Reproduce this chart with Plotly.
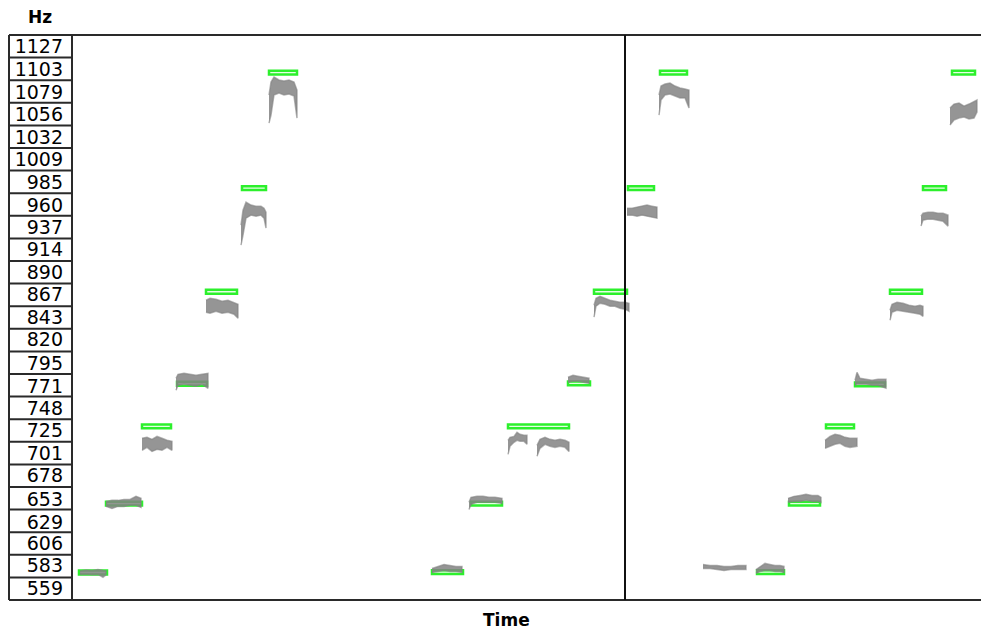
import plotly.graph_objects as go

# ---------------- data ----------------
hz_labels = [1127, 1103, 1079, 1056, 1032, 1009, 985, 960, 937, 914, 890, 867, 843,
             820, 795, 771, 748, 725, 701, 678, 653, 629, 606, 583, 559]

# target notes (green): start time (s), end time (s), pitch (Hz)
note_start = [0.07, 0.34, 0.70, 1.05, 1.34, 1.70, 1.97,
              3.60, 3.99, 4.36, 4.96, 5.22, 5.56, 5.88,
              6.85, 7.17, 7.54, 7.83, 8.18, 8.51, 8.80]
note_end = [0.35, 0.70, 0.99, 1.35, 1.65, 1.94, 2.25,
            3.91, 4.30, 4.97, 5.18, 5.55, 5.82, 6.15,
            7.12, 7.48, 7.82, 8.13, 8.50, 8.74, 9.03]
note_hz = [576.0, 648.0, 729.0, 773.6, 870.0, 978.5, 1099.5,
           576.3, 648.0, 729.0, 774.0, 870.0, 978.5, 1099.5,
           576.3, 648.0, 729.0, 773.0, 870.0, 978.5, 1099.5]

loop_time = 5.53  # vertical marker

# sung pitch traces (gray): time, upper envelope (Hz), lower envelope (Hz)
seg_t = [
    [0.08, 0.14, 0.20, 0.26, 0.31, 0.34],
    [0.34, 0.40, 0.46, 0.52, 0.58, 0.64, 0.69],
    [0.70, 0.75, 0.80, 0.85, 0.90, 0.95, 1.00],
    [1.04, 1.06, 1.12, 1.18, 1.24, 1.30, 1.36],
    [1.34, 1.38, 1.44, 1.50, 1.56, 1.62, 1.66],
    [1.69, 1.71, 1.74, 1.79, 1.84, 1.89, 1.92, 1.94],
    [1.97, 1.99, 2.02, 2.07, 2.12, 2.17, 2.22, 2.25],
    [3.60, 3.66, 3.72, 3.78, 3.84, 3.90],
    [3.97, 3.99, 4.05, 4.11, 4.17, 4.23, 4.30],
    [4.36, 4.38, 4.42, 4.45, 4.48, 4.52, 4.55],
    [4.65, 4.68, 4.73, 4.78, 4.83, 4.88, 4.93, 4.97],
    [4.96, 5.01, 5.06, 5.11, 5.17],
    [5.22, 5.24, 5.28, 5.33, 5.38, 5.43, 5.48, 5.53, 5.57],
    [5.55, 5.60, 5.65, 5.70, 5.75, 5.80, 5.85],
    [5.87, 5.89, 5.93, 5.98, 6.03, 6.08, 6.13, 6.17],
    [6.31, 6.38, 6.45, 6.52, 6.59, 6.66, 6.74],
    [6.84, 6.88, 6.93, 6.98, 7.03, 7.08, 7.12],
    [7.16, 7.22, 7.28, 7.34, 7.40, 7.46, 7.49],
    [7.53, 7.58, 7.63, 7.68, 7.73, 7.78, 7.85],
    [7.83, 7.85, 7.88, 7.94, 8.00, 8.06, 8.14],
    [8.18, 8.20, 8.25, 8.31, 8.37, 8.43, 8.48, 8.51],
    [8.49, 8.51, 8.56, 8.61, 8.66, 8.71, 8.76],
    [8.78, 8.82, 8.87, 8.92, 8.97, 9.02, 9.05],
]
seg_hi = [
    [577.5, 578.5, 578.0, 579.0, 578.2, 577.8],
    [650.4, 651.5, 651.5, 652.5, 652.5, 655.7, 653.6],
    [716.5, 717.5, 715.4, 718.5, 716.5, 714.4, 713.3],
    [779.4, 783.5, 784.6, 783.5, 782.5, 783.5, 784.6],
    [861.1, 863.2, 862.1, 860.0, 861.1, 859.0, 856.9],
    [939.7, 955.4, 963.8, 960.7, 959.6, 959.6, 957.5, 953.3],
    [1076.0, 1089.6, 1094.8, 1091.7, 1090.6, 1091.7, 1089.6, 1081.2],
    [580.2, 582.3, 584.4, 583.4, 582.3, 582.3],
    [649.4, 654.7, 655.7, 655.7, 654.7, 654.7, 653.6],
    [714.4, 717.5, 718.5, 722.8, 720.7, 719.6, 719.6],
    [709.1, 715.4, 717.5, 715.4, 714.4, 715.4, 714.4, 712.3],
    [780.4, 782.5, 781.5, 780.4, 779.4],
    [855.9, 863.2, 865.3, 863.2, 861.1, 860.0, 859.0, 859.0, 857.9],
    [957.5, 957.5, 958.6, 959.6, 960.7, 959.6, 958.6],
    [1076.0, 1085.4, 1087.5, 1088.5, 1085.4, 1083.3, 1082.3, 1081.2],
    [584.4, 583.4, 583.4, 582.3, 582.3, 583.4, 583.4],
    [579.1, 582.3, 585.5, 584.4, 583.4, 583.4, 582.3],
    [653.6, 655.7, 656.7, 657.8, 656.7, 656.7, 654.7],
    [714.4, 718.5, 720.7, 719.6, 717.5, 716.5, 716.5],
    [777.3, 785.6, 779.4, 778.3, 777.3, 778.3, 778.3],
    [850.6, 856.9, 859.0, 857.9, 855.9, 854.8, 855.9, 854.8],
    [949.1, 952.3, 953.3, 953.3, 952.3, 952.3, 950.2],
    [1062.3, 1066.5, 1067.6, 1064.4, 1066.5, 1069.7, 1070.7],
]
seg_lo = [
    [573.8, 574.2, 573.5, 574.0, 571.0, 573.5],
    [645.2, 643.1, 645.2, 645.2, 646.3, 646.3, 644.1],
    [703.9, 707.0, 702.8, 704.9, 703.9, 707.0, 703.9],
    [766.8, 772.0, 773.1, 772.0, 771.0, 773.1, 768.9],
    [848.5, 847.5, 849.6, 847.5, 848.5, 846.4, 842.2],
    [918.8, 929.2, 947.0, 950.2, 949.1, 950.2, 947.0, 936.6],
    [1046.6, 1055.0, 1076.0, 1078.1, 1076.0, 1077.0, 1074.9, 1051.8],
    [576.0, 577.0, 578.1, 577.0, 577.0, 576.0],
    [642.0, 647.3, 649.4, 649.4, 649.4, 649.4, 648.3],
    [699.7, 708.1, 712.3, 714.4, 713.3, 713.3, 710.2],
    [697.6, 706.0, 710.2, 708.1, 707.0, 708.1, 707.0, 702.8],
    [775.2, 776.2, 776.2, 775.2, 774.1],
    [843.3, 854.8, 857.9, 856.9, 854.8, 854.8, 852.7, 851.7, 849.6],
    [950.2, 950.2, 949.1, 950.2, 949.1, 948.1, 947.0],
    [1055.0, 1070.7, 1076.0, 1077.0, 1074.9, 1072.8, 1072.8, 1062.3],
    [580.2, 580.2, 579.1, 578.1, 579.1, 579.1, 579.1],
    [575.0, 577.0, 578.1, 578.1, 577.0, 577.0, 576.0],
    [649.4, 650.4, 650.4, 651.5, 650.4, 650.4, 649.4],
    [706.0, 708.1, 710.2, 711.2, 708.1, 707.0, 708.1],
    [772.0, 773.1, 773.1, 773.1, 772.0, 772.0, 768.9],
    [840.1, 848.5, 850.6, 849.6, 848.5, 847.5, 846.4, 844.3],
    [938.7, 944.9, 946.0, 946.0, 944.9, 943.9, 938.7],
    [1044.5, 1049.8, 1051.8, 1052.9, 1050.8, 1051.8, 1058.1],
]

# ---------------- figure ----------------
fig = go.Figure()

gray = "rgba(130,130,130,0.85)"
for t, hi, lo in zip(seg_t, seg_hi, seg_lo):
    fig.add_trace(go.Scatter(
        x=t + t[::-1], y=hi + lo[::-1], mode="lines", fill="toself",
        fillcolor=gray, line=dict(color="rgba(130,130,130,0.6)", width=1.5),
        hoverinfo="skip", showlegend=False))

fig.add_trace(go.Bar(
    orientation="h", y=note_hz,
    x=[e - s for s, e in zip(note_start, note_end)], base=note_start,
    width=4.0,
    marker=dict(color="rgba(205,255,205,0.55)", line=dict(color="#2cf02c", width=2.5)),
    showlegend=False, hoverinfo="skip"))

step = (hz_labels[0] - hz_labels[-1]) / (len(hz_labels) - 1)
y_lo = hz_labels[-1] - step / 2
y_hi = hz_labels[0] + step / 2

W, H = 981, 635
ml, mt, mb, mr = 72, 35, 35, 0
pw = W - ml - mr
ph = H - mt - mb
col_left = (9 - ml) / pw  # paper x of the label column's left edge

shapes = []
line_col = "#2a2a2a"
for k in range(len(hz_labels) + 1):
    yb = y_lo + k * step
    shapes.append(dict(type="line", xref="paper", yref="y", x0=col_left, x1=0,
                       y0=yb, y1=yb, line=dict(color=line_col, width=2), layer="above"))
shapes.append(dict(type="line", xref="paper", yref="paper", x0=col_left, x1=1, y0=1, y1=1,
                   line=dict(color=line_col, width=2)))
shapes.append(dict(type="line", xref="paper", yref="paper", x0=col_left, x1=1, y0=0, y1=0,
                   line=dict(color=line_col, width=2)))
shapes.append(dict(type="line", xref="paper", yref="paper", x0=col_left, x1=col_left, y0=0, y1=1,
                   line=dict(color=line_col, width=2)))
shapes.append(dict(type="line", xref="paper", yref="paper", x0=0, x1=0, y0=0, y1=1,
                   line=dict(color=line_col, width=2)))
shapes.append(dict(type="line", xref="x", yref="paper", x0=loop_time, x1=loop_time, y0=0, y1=1,
                   line=dict(color="#111111", width=2)))

fig.update_layout(
    width=W, height=H,
    margin=dict(l=ml, r=mr, t=mt, b=mb, pad=0),
    paper_bgcolor="white", plot_bgcolor="white",
    shapes=shapes,
    xaxis=dict(range=[0, pw / 100], showticklabels=False, showgrid=False,
               zeroline=False, ticks="", showline=False, fixedrange=True),
    yaxis=dict(range=[y_lo, y_hi], tickmode="array", tickvals=hz_labels,
               ticktext=[str(v) for v in hz_labels], showgrid=False, zeroline=False,
               ticks="", showline=False, ticklabelstandoff=8,
               tickfont=dict(family="DejaVu Sans", size=19, color="black")),
    annotations=[
        dict(text="<b>Hz</b>", xref="paper", yref="paper", x=(40 - ml) / pw,
             y=1 + (mt - 17) / ph, xanchor="center", yanchor="middle", showarrow=False,
             font=dict(family="DejaVu Sans", size=17, color="black")),
        dict(text="<b>Time</b>", xref="paper", yref="paper", x=(506 - ml) / pw,
             y=-(620 - (H - mb)) / ph, xanchor="center", yanchor="middle", showarrow=False,
             font=dict(family="DejaVu Sans", size=17, color="black")),
    ],
    barmode="overlay",
)

fig.write_html("out.html", config={"displayModeBar": False},
               post_script="document.body.style.margin='0';document.body.style.overflow='hidden';")
